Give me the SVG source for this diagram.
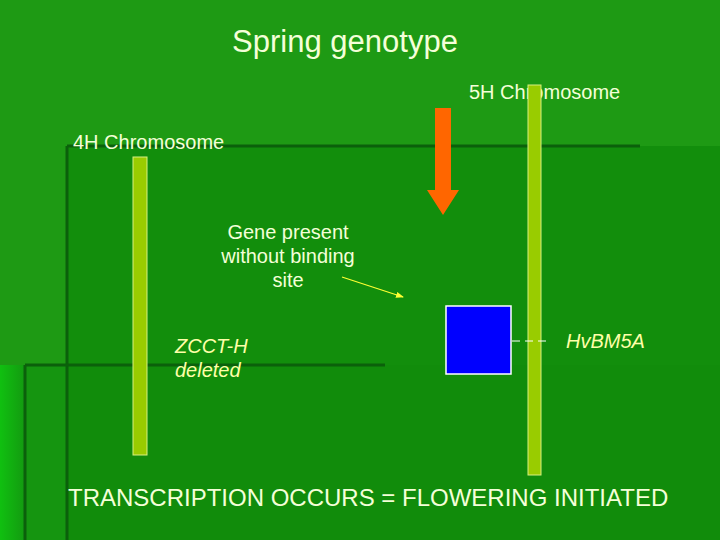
<svg xmlns="http://www.w3.org/2000/svg" width="720" height="540" viewBox="0 0 720 540">
<defs>
<linearGradient id="lg" x1="0" y1="0" x2="1" y2="0">
<stop offset="0" stop-color="#10c010"/><stop offset="1" stop-color="#139a10"/>
</linearGradient>
<marker id="ya" markerWidth="8" markerHeight="6" refX="7" refY="3" orient="auto" markerUnits="userSpaceOnUse"><path d="M0,0 L8,3 L0,6 z" fill="#ffff33"/></marker>
</defs>
<style>
.lbl{font-family:"Liberation Sans",Arial,sans-serif;font-size:20px;fill:#f4ffd8}
.it{font-family:"Liberation Sans",Arial,sans-serif;font-size:20px;font-style:italic;fill:#ffffa8}
.chr{fill:#99cc00;stroke:#d8f080;stroke-width:1}
</style>
<rect width="720" height="540" fill="#1e9a14"/>
<rect x="0" y="365" width="25" height="175" fill="url(#lg)"/>
<rect x="67" y="146" width="653" height="394" fill="#128e0c"/>
<rect x="25" y="365" width="695" height="175" fill="#159510"/>
<rect x="67" y="365" width="653" height="175" fill="#118c0b"/>
<g stroke="#0b600b" stroke-width="3" fill="none">
<line x1="67" y1="146" x2="640" y2="146"/>
<line x1="67" y1="146" x2="67" y2="540"/>
<line x1="25" y1="365" x2="385" y2="365"/>
<line x1="25" y1="365" x2="25" y2="540"/>
</g>
<g id="title"><text x="345" y="52" text-anchor="middle" font-family="Liberation Sans,Arial,sans-serif" font-size="31" fill="#f4ffd8">Spring genotype</text></g>
<g id="chr4H"><rect class="chr" x="133" y="157" width="14" height="298"/><text class="lbl" x="73" y="149">4H Chromosome</text></g>
<g id="chr5H"><text class="lbl" x="469" y="99">5H Chromosome</text><rect class="chr" x="528" y="85" width="13" height="390"/></g>
<g id="arrow"><path d="M435,108 H451 V190 H459 L443,215 L427,190 H435 Z" fill="#ff6600"/></g>
<g id="gene"><rect x="446" y="306" width="65" height="68" fill="#0000ff" stroke="#ffffff" stroke-width="1.5"/></g>
<g id="labels">
<text class="lbl" text-anchor="middle" x="288" y="239">Gene present</text>
<text class="lbl" text-anchor="middle" x="288" y="263">without binding</text>
<text class="lbl" text-anchor="middle" x="288" y="287">site</text>
<text class="it" x="175" y="353">ZCCT-H</text>
<text class="it" x="175" y="377">deleted</text>
<text class="it" x="566" y="348">HvBM5A</text>
<text class="lbl" x="68" y="506" style="font-size:24px">TRANSCRIPTION OCCURS = FLOWERING INITIATED</text>
</g>
<g id="connectors">
<line x1="342" y1="277" x2="403" y2="297" stroke="#ffff33" stroke-width="1.2" marker-end="url(#ya)"/>
<line x1="512" y1="341" x2="550" y2="341" stroke="#ffffff" stroke-width="1" stroke-dasharray="8,5"/>
</g>
</svg>
